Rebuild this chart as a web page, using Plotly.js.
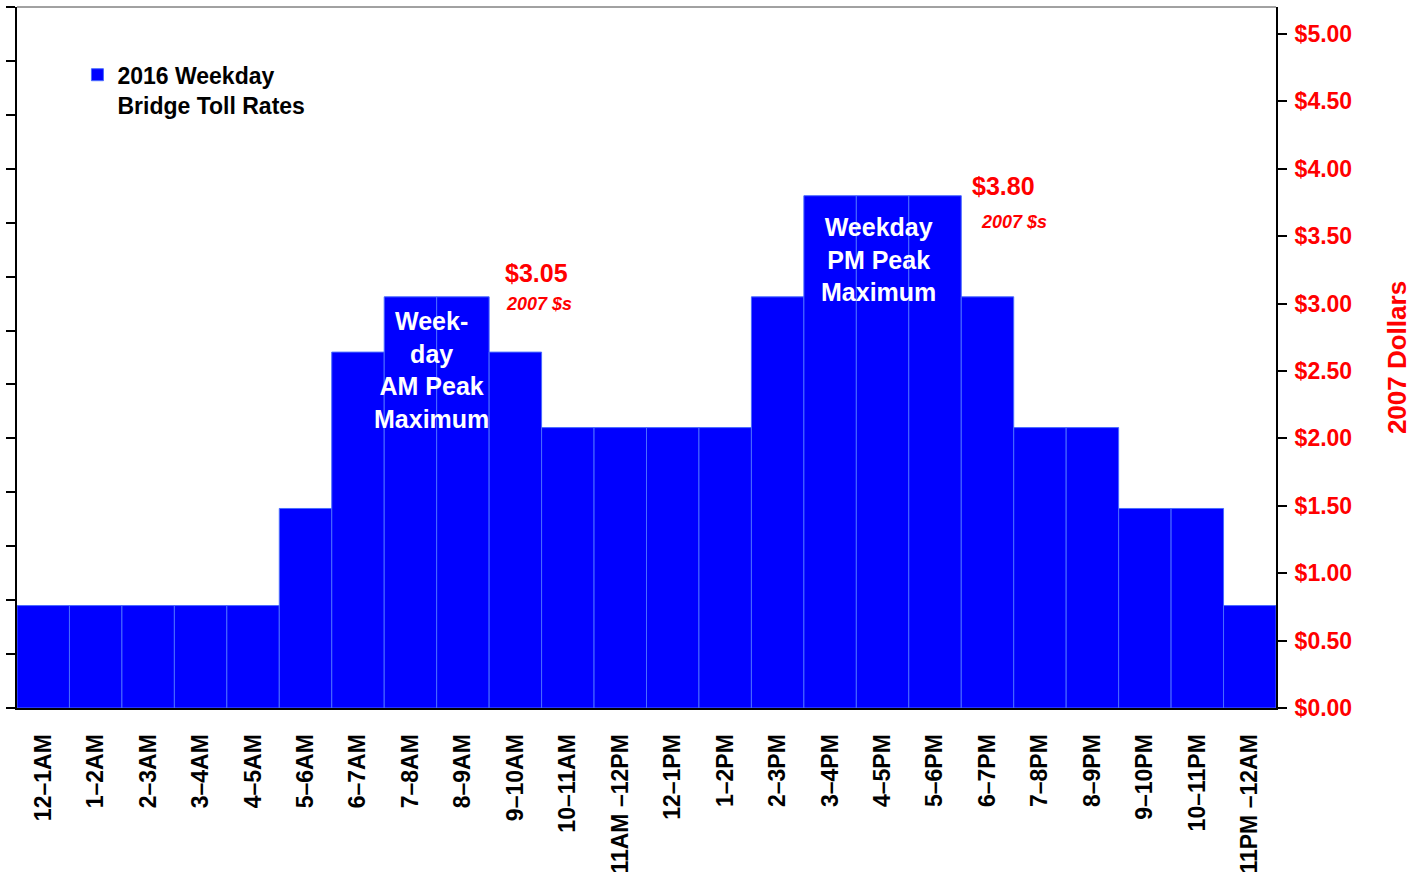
<!DOCTYPE html>
<html>
<head>
<meta charset="utf-8">
<script src="https://cdn.plot.ly/plotly-3.0.1.min.js"></script>
<style>
  html, body { margin: 0; padding: 0; background: #fff; }
  #chart { width: 1412px; height: 884px; }
</style>
</head>
<body>
<div id="chart"></div>
<script>
// Hourly time bands of the weekday toll schedule
const hours = [
  '12–1AM', '1–2AM', '2–3AM', '3–4AM', '4–5AM', '5–6AM',
  '6–7AM', '7–8AM', '8–9AM', '9–10AM', '10–11AM', '11AM –12PM',
  '12–1PM', '1–2PM', '2–3PM', '3–4PM', '4–5PM', '5–6PM',
  '6–7PM', '7–8PM', '8–9PM', '9–10PM', '10–11PM', '11PM –12AM'
];

// 2016 weekday bridge toll, expressed in 2007 dollars
const tollRates = [
  0.76, 0.76, 0.76, 0.76, 0.76, 1.48,
  2.64, 3.05, 3.05, 2.64, 2.08, 2.08,
  2.08, 2.08, 3.05, 3.80, 3.80, 3.80,
  3.05, 2.08, 2.08, 1.48, 1.48, 0.76
];

// Right-hand dollar axis ticks
const dollarTicks = [0, 0.5, 1, 1.5, 2, 2.5, 3, 3.5, 4, 4.5, 5];
const dollarLabels = ['$0.00', '$0.50', '$1.00', '$1.50', '$2.00', '$2.50',
  '$3.00', '$3.50', '$4.00', '$4.50', '$5.00'];

// Peak callouts
const amPeakValue = 3.05;
const pmPeakValue = 3.80;

const FONT = 'Liberation Sans, Arial, sans-serif';
const fmt = v => '$' + v.toFixed(2);

const traces = [
  {
    type: 'bar',
    x: hours,
    y: tollRates,
    name: '2016 Weekday<br>Bridge Toll Rates',
    marker: { color: '#0000ff', line: { color: '#4a6bff', width: 1 } },
    hoverinfo: 'x+y'
  },
  {
    // ties the right-hand dollar axis to the same values
    type: 'scatter',
    mode: 'markers',
    x: hours,
    y: tollRates,
    yaxis: 'y2',
    marker: { opacity: 0, size: 1 },
    showlegend: false,
    hoverinfo: 'skip'
  }
];

const layout = {
  width: 1412,
  height: 884,
  margin: { l: 17, r: 136, t: 7, b: 176 },
  paper_bgcolor: '#ffffff',
  plot_bgcolor: '#ffffff',
  bargap: 0,
  showlegend: true,
  legend: {
    x: 0.048, y: 0.934, xanchor: 'left', yanchor: 'top',
    bgcolor: 'rgba(0,0,0,0)',
    font: { family: FONT, size: 23, color: '#000', weight: 'bold' },
    valign: 'top',
    itemwidth: 30
  },
  xaxis: {
    type: 'category',
    range: [-0.5, 23.5],
    showgrid: false,
    zeroline: false,
    showline: true,
    linecolor: '#000',
    linewidth: 2,
    ticks: '',
    tickangle: -90,
    ticklabelstandoff: 15,
    tickfont: { family: FONT, size: 23, color: '#000', weight: 'bold' },
    fixedrange: true
  },
  yaxis: {
    range: [0, 5.2],
    dtick: 0.4,
    tick0: 0,
    showgrid: false,
    zeroline: false,
    showline: true,
    linecolor: '#000',
    linewidth: 2,
    ticks: 'outside',
    ticklen: 9,
    tickwidth: 2,
    tickcolor: '#000',
    showticklabels: false,
    fixedrange: true
  },
  yaxis2: {
    overlaying: 'y',
    side: 'right',
    anchor: 'x',
    range: [0, 5.2],
    tickvals: dollarTicks,
    ticktext: dollarLabels,
    showgrid: false,
    zeroline: false,
    showline: true,
    linecolor: '#000',
    linewidth: 2,
    ticks: 'outside',
    ticklen: 9,
    tickwidth: 2,
    tickcolor: '#000',
    ticklabelstandoff: 3,
    tickfont: { family: FONT, size: 23, color: '#ff0000', weight: 'bold' },
    title: {
      text: '2007 Dollars',
      font: { family: FONT, size: 26, color: '#ff0000', weight: 'bold' },
      standoff: 38
    },
    fixedrange: true
  },
  shapes: [{
    type: 'line', xref: 'paper', yref: 'paper',
    x0: 0, x1: 1, y0: 1, y1: 1,
    line: { color: '#444', width: 1 }
  }],
  annotations: [
    {
      x: 7.4, y: amPeakValue, xref: 'x', yref: 'y',
      text: 'Week-<br>day<br>AM Peak<br>Maximum',
      showarrow: false, xanchor: 'center', yanchor: 'top', yshift: -8,
      font: { family: FONT, size: 25, color: '#ffffff', weight: 'bold' }
    },
    {
      x: 9.41, y: amPeakValue, xref: 'x', yref: 'y',
      text: fmt(amPeakValue),
      showarrow: false, xanchor: 'center', yanchor: 'bottom', yshift: 8,
      font: { family: FONT, size: 25, color: '#ff0000', weight: 'bold' }
    },
    {
      x: 9.45, y: amPeakValue, xref: 'x', yref: 'y',
      text: '<i>2007 $s</i>',
      showarrow: false, xanchor: 'center', yanchor: 'top', yshift: 5,
      font: { family: FONT, size: 18, color: '#ff0000', weight: 'bold' }
    },
    {
      x: 15.93, y: pmPeakValue, xref: 'x', yref: 'y',
      text: 'Weekday<br>PM Peak<br>Maximum',
      showarrow: false, xanchor: 'center', yanchor: 'top', yshift: -15,
      font: { family: FONT, size: 25, color: '#ffffff', weight: 'bold' }
    },
    {
      x: 18.3, y: pmPeakValue, xref: 'x', yref: 'y',
      text: fmt(pmPeakValue),
      showarrow: false, xanchor: 'center', yanchor: 'middle', yshift: 10,
      font: { family: FONT, size: 25, color: '#ff0000', weight: 'bold' }
    },
    {
      x: 18.5, y: pmPeakValue, xref: 'x', yref: 'y',
      text: '<i>2007 $s</i>',
      showarrow: false, xanchor: 'center', yanchor: 'middle', yshift: -26,
      font: { family: FONT, size: 18, color: '#ff0000', weight: 'bold' }
    }
  ]
};

Plotly.newPlot('chart', traces, layout, { displayModeBar: false, staticPlot: true });
</script>
</body>
</html>
